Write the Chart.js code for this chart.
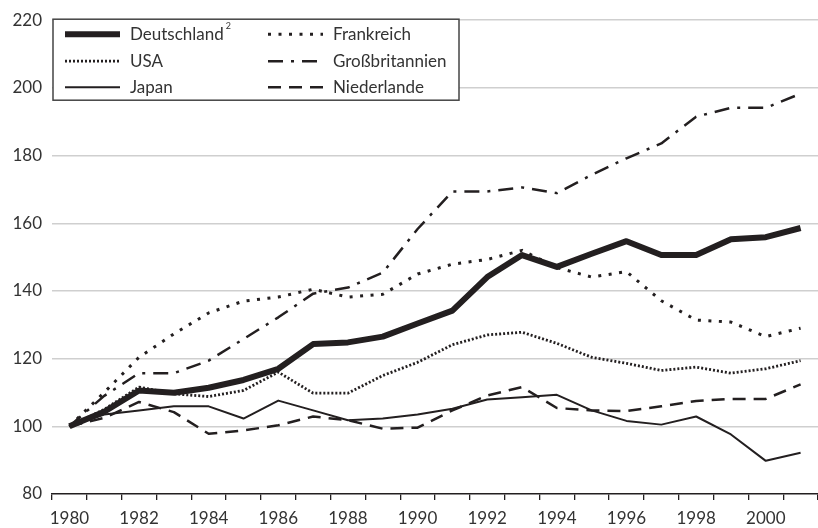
<!DOCTYPE html>
<html>
<head>
<meta charset="utf-8">
<script src="https://cdn.jsdelivr.net/npm/chart.js@4.4.1/dist/chart.umd.min.js"></script>
<style>
  html, body { margin: 0; padding: 0; background: #ffffff; }
  #wrap { width: 818px; height: 528px; }
</style>
</head>
<body>
<div id="wrap"><canvas id="c" width="818" height="528"></canvas></div>
<script>
const years = ['1980','1981','1982','1983','1984','1985','1986','1987','1988','1989','1990','1991','1992','1993','1994','1995','1996','1997','1998','1999','2000','2001'];
const yTicks = [80, 100, 120, 140, 160, 180, 200, 220];

const deutschland = [100, 104.3, 110.6, 109.9, 111.4, 113.7, 117.0, 124.3, 124.8, 126.5, 130.4, 134.2, 144.1, 150.6, 147.1, 151.0, 154.7, 150.6, 150.6, 155.3, 155.9, 158.6];
const frankreich = [100, 110.0, 120.4, 127.3, 133.5, 137.0, 138.2, 140.5, 138.2, 139.0, 145.0, 147.9, 149.3, 152.0, 146.9, 144.1, 145.7, 137.1, 131.4, 130.8, 126.5, 129.0];
const usa = [100, 105.0, 111.6, 109.6, 108.8, 110.6, 116.0, 109.8, 109.8, 115.0, 118.9, 124.1, 127.0, 127.8, 124.5, 120.4, 118.6, 116.5, 117.5, 115.7, 117.0, 119.4];
const grossbritannien = [100, 109.0, 115.7, 115.7, 119.4, 125.8, 132.2, 139.2, 141.0, 145.4, 158.3, 169.4, 169.4, 170.6, 168.9, 174.3, 179.2, 183.6, 191.5, 194.1, 194.1, 198.3];
const japan = [100, 103.5, 104.7, 105.9, 105.9, 102.3, 107.6, 104.7, 101.8, 102.3, 103.5, 105.2, 107.9, 108.6, 109.3, 104.7, 101.6, 100.5, 102.9, 97.6, 89.8, 92.2];
const niederlande = [100, 102.5, 107.2, 104.2, 97.8, 98.8, 100.3, 102.9, 101.8, 99.3, 99.6, 104.7, 109.1, 111.6, 105.4, 104.7, 104.5, 105.9, 107.5, 108.1, 108.1, 112.4];

const seriesNames = ['Deutschland', 'Frankreich', 'USA', 'Großbritannien', 'Japan', 'Niederlande'];
const INK = '#231f20';
const TEXT = '#333333';
const FONT = 'Lato, "Open Sans", sans-serif';

function ds(label, data, width, dash) {
  return {
    label: label, data: data, borderColor: INK, backgroundColor: INK,
    borderWidth: width, borderDash: dash, pointRadius: 0, tension: 0,
    fill: false, borderJoinStyle: 'round', borderCapStyle: 'butt'
  };
}

const legendPlugin = {
  id: 'boxLegend',
  afterDatasetsDraw(chart) {
    const ctx = chart.ctx;
    const a = chart.chartArea;
    const x0 = a.left + 1, y0 = a.top - 1, w = 406, h = 81;
    ctx.save();
    ctx.setLineDash([]);
    ctx.fillStyle = '#ffffff';
    ctx.fillRect(x0, y0, w, h);
    ctx.strokeStyle = '#444444';
    ctx.lineWidth = 1.5;
    ctx.strokeRect(x0, y0, w, h);
    const rows = [[0, 1], [2, 3], [4, 5]];
    const rowY = [15, 42, 68];
    const colX = [12, 215];
    ctx.font = '17px ' + FONT;
    ctx.textBaseline = 'middle';
    ctx.textAlign = 'left';
    rows.forEach((row, r) => {
      row.forEach((idx, c) => {
        const d = chart.data.datasets[idx];
        const lx = x0 + colX[c];
        const cy = y0 + rowY[r];
        ctx.beginPath();
        ctx.lineWidth = d.borderWidth;
        ctx.setLineDash(d.borderDash || []);
        ctx.strokeStyle = d.borderColor;
        ctx.lineCap = 'butt';
        ctx.moveTo(lx, cy);
        ctx.lineTo(lx + 55, cy);
        ctx.stroke();
        ctx.setLineDash([]);
        ctx.fillStyle = TEXT;
        ctx.font = '17px ' + FONT;
        ctx.fillText(d.label, lx + 65, cy);
        if (idx === 0) {
          const tw = ctx.measureText(d.label).width;
          ctx.font = '9px ' + FONT;
          ctx.fillText('2', lx + 65 + tw + 2, cy - 8);
        }
      });
    });
    ctx.restore();
  }
};

const bgPlugin = {
  id: 'bg',
  beforeDraw(chart) {
    const ctx = chart.ctx;
    ctx.save();
    ctx.fillStyle = '#ffffff';
    ctx.fillRect(0, 0, chart.width, chart.height);
    ctx.restore();
  }
};

new Chart(document.getElementById('c'), {
  type: 'line',
  data: {
    labels: years,
    datasets: [
      ds(seriesNames[0], deutschland, 6, []),
      ds(seriesNames[1], frankreich, 3, [3, 7.5]),
      ds(seriesNames[2], usa, 2.8, [2, 2]),
      ds(seriesNames[3], grossbritannien, 2.5, [15, 8, 3, 8]),
      ds(seriesNames[4], japan, 2, []),
      ds(seriesNames[5], niederlande, 2.5, [13, 8])
    ]
  },
  options: {
    responsive: false,
    animation: false,
    devicePixelRatio: 1,
    layout: { padding: { top: 18, right: -3, bottom: 0, left: 0 } },
    plugins: { legend: { display: false }, tooltip: { enabled: false }, title: { display: false } },
    scales: {
      x: {
        type: 'category',
        offset: true,
        afterFit(scale) { scale.height = 34; },
        grid: {
          offset: true, drawOnChartArea: false, drawTicks: true,
          tickLength: 6, color: INK, lineWidth: 1.3
        },
        border: { display: true, color: INK, width: 1.5 },
        ticks: {
          autoSkip: false, maxRotation: 0, minRotation: 0, padding: 8,
          color: TEXT, font: { family: FONT, size: 17 },
          callback: function(v, i) { return i % 2 === 0 ? years[i] : ''; }
        }
      },
      y: {
        min: yTicks[0], max: yTicks[yTicks.length - 1],
        afterFit(scale) { scale.width = 52; },
        afterBuildTicks(scale) { scale.ticks = yTicks.map(v => ({ value: v })); },
        grid: {
          drawTicks: false, lineWidth: 1.5,
          color: (c) => (c.tick && c.tick.value === yTicks[0]) ? 'rgba(0,0,0,0)' : '#cfcfcf'
        },
        border: { display: false },
        ticks: { padding: 10, color: TEXT, font: { family: FONT, size: 17 } }
      }
    }
  },
  plugins: [bgPlugin, legendPlugin]
});
</script>
</body>
</html>
